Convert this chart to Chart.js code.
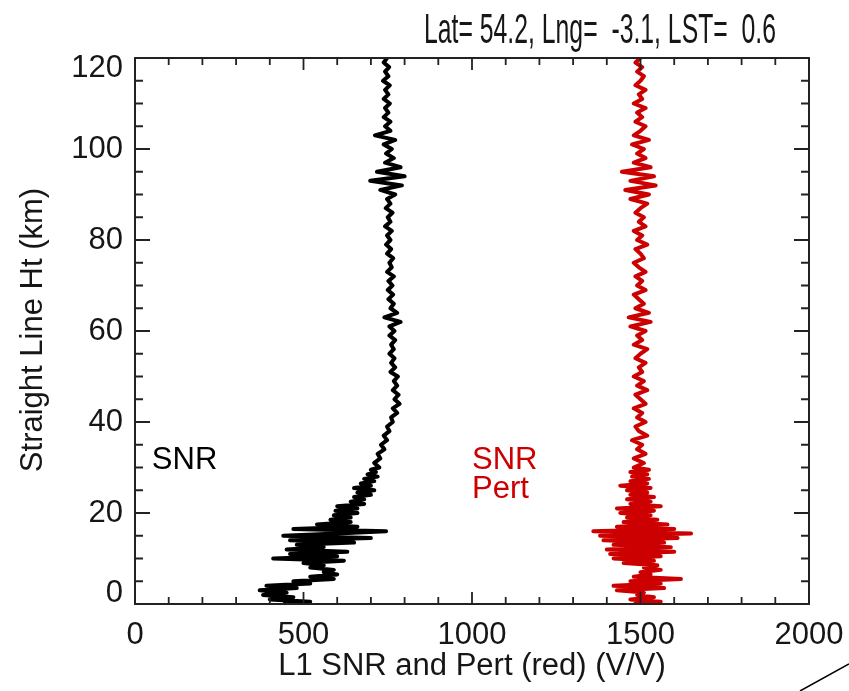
<!DOCTYPE html>
<html>
<head>
<meta charset="utf-8">
<script src="https://cdn.jsdelivr.net/npm/chart.js@4/dist/chart.umd.min.js"></script>
<style>
  html, body { margin: 0; padding: 0; background: #fff; }
  #profile-chart { display: block; }
</style>
</head>
<body>
<canvas id="profile-chart" width="849" height="691"></canvas>
<script>
// height levels (km), shared by both profiles
var heights = [
    0, 0.5, 1, 1.5, 2, 2.5, 3, 3.5, 4, 4.5,
    5, 5.5, 6, 6.5, 7, 7.5, 8, 8.5, 9, 9.5,
    10, 10.5, 11, 11.5, 12, 12.5, 13, 13.5, 14, 14.5,
    15, 15.5, 16, 16.5, 17, 17.5, 18, 18.5, 19, 19.5,
    20, 20.5, 21, 21.5, 22, 22.5, 23, 23.5, 24, 24.5,
    25, 25.5, 26, 26.5, 27, 27.5, 28, 28.5, 29, 29.5,
    30,
    31, 32, 33, 34, 35, 36, 37, 38, 39, 40,
    41, 42, 43, 44, 45, 46, 47, 48, 49, 50,
    51, 52, 53, 54, 55, 56, 57, 58, 59, 60,
    61, 62, 63, 64, 65, 66, 67, 68, 69, 70,
    71, 72, 73, 74, 75, 76, 77, 78, 79, 80,
    81, 82, 83, 84, 85, 86, 87, 88, 89, 90,
    91, 92, 93, 94, 95, 96, 97, 98, 99, 100,
    101, 102, 103, 104, 105, 106, 107, 108, 109, 110,
    111, 112, 113, 114, 115, 116, 117, 118, 119, 120
];

// L1 SNR (black)
var snr = [
    440, 520, 400, 470, 380, 450, 370, 480, 390, 520,
    470, 590, 520, 600, 560, 590, 520, 560, 500, 620,
    410, 600, 460, 630, 450, 560, 480, 650, 460, 700,
    440, 600, 745, 470, 660, 540, 640, 580, 640, 590,
    660, 595, 660, 600, 680, 640, 680, 650, 700, 660,
    710, 650, 700, 670, 710, 680, 720, 690, 715, 700,
    725,
    710, 728, 720, 740, 730, 748, 738, 755, 748, 765,
    760, 778, 765, 785, 770, 782, 765, 778, 768, 780,
    758, 772, 760, 770, 755, 768, 760, 772, 755, 770,
    755, 788, 740, 778, 758, 768, 752, 766, 750, 764,
    752, 768, 748, 762, 755, 766, 748, 760, 745, 758,
    748, 762, 742, 758, 750, 764, 744, 758, 748, 772,
    728, 792, 698, 800, 718, 788, 742, 768, 745, 762,
    738, 772, 712, 758, 742, 758, 738, 752, 742, 756,
    738, 752, 742, 756, 736, 752, 742, 754, 738, 748
];

// SNR perturbation (red)
var pert = [
    1480, 1560, 1470, 1540, 1490, 1510, 1430, 1570, 1420, 1560,
    1470, 1620, 1480, 1530, 1500, 1560, 1510, 1550, 1450, 1540,
    1420, 1560, 1410, 1600, 1400, 1590, 1420, 1570, 1390, 1610,
    1380, 1650, 1360, 1600, 1430, 1580, 1450, 1550, 1460, 1530,
    1440, 1540, 1430, 1560, 1470, 1530, 1460, 1540, 1470, 1520,
    1460, 1530, 1440, 1520, 1470, 1525, 1475, 1520, 1470, 1525,
    1480,
    1510, 1480, 1515, 1490, 1505, 1475, 1520, 1495, 1485, 1515,
    1490, 1505, 1480, 1515, 1500, 1485, 1520, 1490, 1510, 1480,
    1505, 1495, 1515, 1485, 1500, 1520, 1480, 1505, 1490, 1515,
    1470, 1530, 1465, 1525, 1485, 1510, 1495, 1480, 1515, 1490,
    1505, 1485, 1515, 1495, 1480, 1510, 1500, 1485, 1520, 1490,
    1505, 1480, 1515, 1495, 1510, 1485, 1500, 1520, 1470, 1525,
    1455, 1545, 1470, 1540, 1445, 1530, 1480, 1515, 1490, 1510,
    1475, 1525, 1480, 1500, 1515, 1485, 1505, 1490, 1515, 1480,
    1505, 1495, 1515, 1485, 1500, 1510, 1490, 1505, 1485, 1500
];

var xTicks = [0, 500, 1000, 1500, 2000];
var yTicks = [0, 20, 40, 60, 80, 100, 120];
var xMinorStep = 100;
var yMinorStep = 5;

var chartTitle = "Lat= 54.2, Lng=  -3.1, LST=  0.6";
var xTitle = "L1 SNR and Pert (red) (V/V)";
var yTitle = "Straight Line Ht (km)";

var blackColor = "#000000";
var redColor = "#cc0000";
var textColor = "#161616";
var fontName = "'Liberation Sans', Arial, Helvetica, sans-serif";

function toPoints(xs) {
    var pts = [];
    for (var i = 0; i < heights.length; i++) {
        pts.push({ x: xs[i], y: heights[i] });
    }
    return pts;
}

// IDL style frame: box, inward ticks on all four sides, labels and titles
var idlFrame = {
    id: "idlFrame",
    afterDraw: function (chart) {
        var ctx = chart.ctx;
        var xs = chart.scales.x;
        var ys = chart.scales.y;
        var a = chart.chartArea;
        ctx.save();

        ctx.strokeStyle = "#222";
        ctx.lineWidth = 2;
        ctx.strokeRect(a.left, a.top, a.right - a.left, a.bottom - a.top);

        ctx.lineWidth = 1.8;
        ctx.beginPath();
        for (var v = xs.min; v <= xs.max; v += xMinorStep) {
            var px = xs.getPixelForValue(v);
            var len = (v % 500 === 0) ? 12 : 7;
            ctx.moveTo(px, a.bottom); ctx.lineTo(px, a.bottom - len);
            ctx.moveTo(px, a.top); ctx.lineTo(px, a.top + len);
        }
        for (var h = ys.min; h <= ys.max; h += yMinorStep) {
            var py = ys.getPixelForValue(h);
            var len2 = (h % 20 === 0) ? 15 : 8;
            ctx.moveTo(a.left, py); ctx.lineTo(a.left + len2, py);
            ctx.moveTo(a.right, py); ctx.lineTo(a.right - len2, py);
        }
        ctx.stroke();

        ctx.fillStyle = textColor;
        ctx.font = "31px " + fontName;
        ctx.textAlign = "center";
        ctx.textBaseline = "middle";
        xTicks.forEach(function (t) {
            ctx.fillText(String(t), xs.getPixelForValue(t), 635);
        });
        ctx.textAlign = "right";
        yTicks.forEach(function (t) {
            var py = ys.getPixelForValue(t);
            py = Math.min(Math.max(py, a.top + 10), a.bottom - 11);
            ctx.fillText(String(t), 123, py);
        });

        // axis titles
        ctx.textAlign = "center";
        ctx.fillText(xTitle, (a.left + a.right) / 2, 666);
        ctx.save();
        ctx.translate(33, 330);
        ctx.rotate(-Math.PI / 2);
        ctx.fillText(yTitle, 0, 0);
        ctx.restore();

        // in-plot labels
        ctx.textAlign = "left";
        ctx.textBaseline = "alphabetic";
        ctx.fillStyle = blackColor;
        ctx.fillText("SNR", xs.getPixelForValue(50), ys.getPixelForValue(29.7));
        ctx.fillStyle = redColor;
        ctx.fillText("SNR", xs.getPixelForValue(1000), ys.getPixelForValue(29.7));
        ctx.fillText("Pert", xs.getPixelForValue(1000), ys.getPixelForValue(23.2));

        // title, in a narrow face
        ctx.fillStyle = textColor;
        ctx.font = "43px 'Liberation Sans Narrow', 'Liberation Sans', Arial, sans-serif";
        var w = ctx.measureText(chartTitle).width;
        ctx.save();
        ctx.translate(424, 43);
        ctx.scale(352 / w, 1);
        ctx.textAlign = "left";
        ctx.fillText(chartTitle, 0, 0);
        ctx.restore();

        // stray stroke at the lower right corner of the original
        ctx.strokeStyle = "#000";
        ctx.lineWidth = 1.5;
        ctx.beginPath();
        ctx.moveTo(800, 691);
        ctx.lineTo(849, 664);
        ctx.stroke();

        ctx.restore();
    }
};

var profileChart = new Chart(document.querySelector("#profile-chart"), {
    type: "scatter",
    data: {
        datasets: [
            {
                label: "SNR",
                data: toPoints(snr),
                showLine: true,
                borderColor: blackColor,
                borderWidth: 4,
                borderJoinStyle: "round",
                pointRadius: 0
            },
            {
                label: "Pert",
                data: toPoints(pert),
                showLine: true,
                borderColor: redColor,
                borderWidth: 4,
                borderJoinStyle: "round",
                pointRadius: 0
            }
        ]
    },
    options: {
        responsive: false,
        animation: false,
        layout: { padding: { top: 58, right: 40, left: 0, bottom: 0 } },
        plugins: {
            legend: { display: false },
            tooltip: { enabled: false },
            title: { display: false }
        },
        scales: {
            x: {
                type: "linear",
                min: 0,
                max: 2000,
                grid: { display: false },
                border: { display: false },
                ticks: { display: false },
                afterFit: function (s) { s.height = 87; }
            },
            y: {
                type: "linear",
                min: 0,
                max: 120,
                grid: { display: false },
                border: { display: false },
                ticks: { display: false },
                afterFit: function (s) { s.width = 135; }
            }
        }
    },
    plugins: [idlFrame]
});
</script>
</body>
</html>
